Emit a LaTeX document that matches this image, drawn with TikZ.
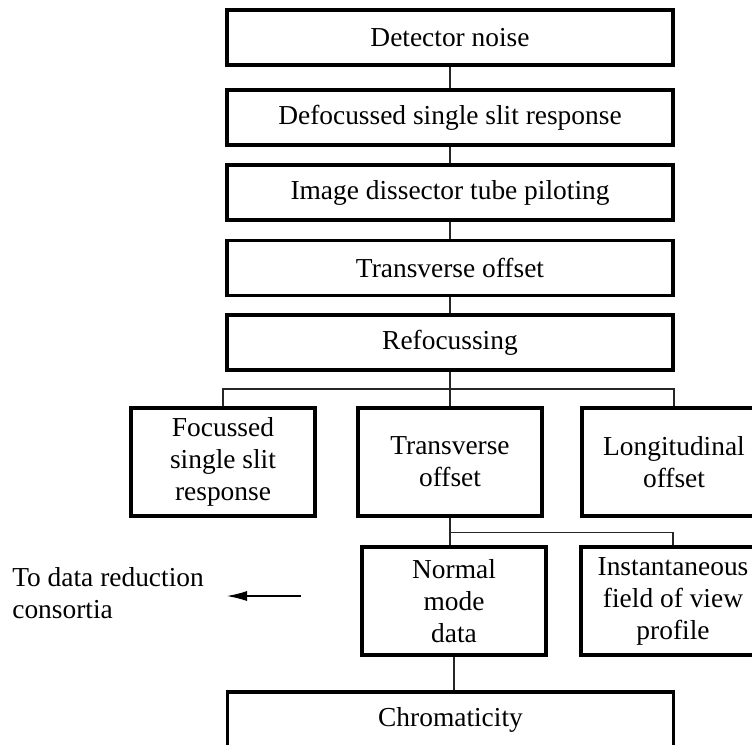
\documentclass[tikz,border=0pt]{standalone}
\usepackage{fontspec}
\setmainfont{Liberation Serif}
\usetikzlibrary{arrows.meta,calc}

\begin{document}
\begin{tikzpicture}[
  font=\fontsize{15.6}{18.2}\selectfont, >=Latex,
  every node/.style={align=center},
  box/.style={draw, line width=1.8pt, minimum width=8.92cm,
              minimum height=1.1cm, inner sep=2pt},
  sbox/.style={box, minimum width=3.68cm, minimum height=2.16cm},
  link/.style={line width=0.6pt, black!85},
  arr/.style={-{Latex[length=4mm,width=2mm]}, line width=0.6pt}
]
\useasboundingbox (0,0) rectangle (15.04,-14.88);
\clip (0,0) rectangle (15.04,-14.88);

%% Main column
\node[box] (noise) at (9.0,-0.75) {Detector noise};
\node[box] (defoc) at (9.0,-2.35) {Defocussed single slit response};
\node[box] (idtp)  at (9.0,-3.85) {Image dissector tube piloting};
\node[box] (toff)  at (9.0,-5.36) {Transverse offset};
\node[box] (refoc) at (9.0,-6.85) {Refocussing};

%% Second level (y=-9.24)
\node[sbox] (focus) at (4.46,-9.24)  {Focussed\\single slit\\response};
\node[sbox] (ttoff) at (9.0,-9.24)   {Transverse\\offset};
\node[sbox] (loff)  at (13.48,-9.24) {Longitudinal\\offset};

%% Third level (y=-12.02)
\node[sbox] (nmd)  at (9.08,-12.02)  {Normal\\mode\\data};
\node[sbox] (ifov) at (13.46,-12.02) {Instantaneous\\field of view\\profile};

%% Bottom
\node[box] (chrom) at (9.01,-14.39) {Chromaticity};

%% Output to the left
\node[anchor=west, align=left, inner sep=0pt] (dred) at (0.24,-11.87)
      {To data reduction\\consortia};
\coordinate (afrom) at (6.02,-11.92);
\coordinate (ato)   at (4.54,-11.92);

%% Column links
\draw[link] (noise) -- (defoc);
\draw[link] (defoc) -- (idtp);
\draw[link] (idtp)  -- (toff);
\draw[link] (toff)  -- (refoc);

%% First branching
\coordinate (br1) at ($(refoc.south)!0.5!(ttoff.north)$);
\draw[link] (refoc.south) -- (ttoff.north);
\draw[link] (focus.north) |- (br1) -| (loff.north);

%% Second branching
\coordinate (br2) at ($(ttoff.south)!0.55!(ttoff.south |- nmd.north)$);
\draw[link] (ttoff.south) -- (ttoff.south |- nmd.north);
\draw[link] (br2) -| (ifov.north);

%% Down to chromaticity
\draw[link] (nmd.south) -- (nmd.south |- chrom.north);

%% Arrow to consortia
\draw[arr] (afrom) -- (ato);

\end{tikzpicture}
\end{document}
